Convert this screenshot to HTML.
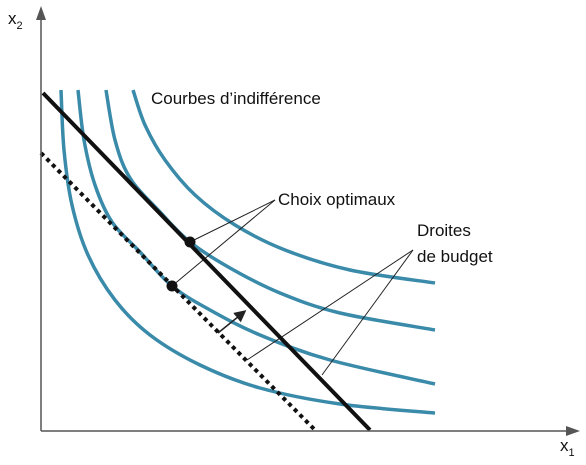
<!DOCTYPE html>
<html><head><meta charset="utf-8"><style>
body{margin:0;background:#fff}
svg{display:block}
text{font-family:"Liberation Sans",sans-serif;fill:#111}
</style></head><body>
<svg width="586" height="465" viewBox="0 0 586 465">
<defs><marker id="ah" markerWidth="8" markerHeight="8" refX="6" refY="4" orient="auto"><path d="M0,0 L8,4 L0,8 Z" fill="#222"/></marker></defs>
<g id="curves"></g>
<g id="lines"></g>
<line x1="41" y1="431" x2="41" y2="14" stroke="#555" stroke-width="1.5"/>
<path d="M41,6 L36,20 L46,20 Z" fill="#555"/>
<line x1="41" y1="431" x2="572" y2="431" stroke="#555" stroke-width="1.5"/>
<path d="M580,431 L566,426 L566,436 Z" fill="#555"/>
<text x="8" y="24" font-size="17">x<tspan font-size="11" dy="5">2</tspan></text>
<text x="560" y="451" font-size="17">x<tspan font-size="11" dy="5">1</tspan></text>
<text x="151" y="104" font-size="17">Courbes d’indifférence</text>
<text x="278" y="205" font-size="17">Choix optimaux</text>
<text x="417" y="236" font-size="17">Droites</text>
<text x="417" y="262" font-size="17">de budget</text>
</svg>
<script>
const curve1=[[20,340],[23,280],[31,225],[47,175],[74,130],[109,95],[159,65],[219,42],[299,26],[394,17]];
const curve2=[[37,340],[43,290],[54,245],[71,208],[99,178],[131,144],[169,120],[219,95],[289,70],[394,46]];
const curve3=[[65,340],[74,290],[89,252],[119,218],[149,188],[189,162],[239,137],[299,117],[394,100]];
const curve4=[[92,340],[104,305],[124,270],[154,235],[194,205],[244,180],[309,160],[394,147]];
const curves=[curve1,curve2,curve3,curve4];
const budgetSolid=[[2,337],[329,0]];
const budgetDotted=[[0,277],[274,0]];
const optima=[[149,188],[131,144]];
const sx=v=>41+v, sy=v=>430-v;
const NS="http://www.w3.org/2000/svg";
function smooth(pts){
  const p=pts.map(q=>[sx(q[0]),sy(q[1])]);
  let d=`M${p[0][0]},${p[0][1]}`;
  for(let i=0;i<p.length-1;i++){
    const p0=p[i-1]||p[i],p1=p[i],p2=p[i+1],p3=p[i+2]||p2;
    d+=` C${p1[0]+(p2[0]-p0[0])/6},${p1[1]+(p2[1]-p0[1])/6} ${p2[0]-(p3[0]-p1[0])/6},${p2[1]-(p3[1]-p1[1])/6} ${p2[0]},${p2[1]}`;
  }
  return d;
}
const cg=document.getElementById('curves');
curves.forEach((c,i)=>{
  const e=document.createElementNS(NS,'path');
  e.setAttribute('d',smooth(c));
  e.setAttribute('fill','none');e.setAttribute('stroke','#3a8aaa');e.setAttribute('stroke-width','3.5');
  
  
  cg.appendChild(e);
});
const lg=document.getElementById('lines');
function ln(x1,y1,x2,y2,attrs,name){
  const e=document.createElementNS(NS,'line');
  e.setAttribute('x1',x1);e.setAttribute('y1',y1);e.setAttribute('x2',x2);e.setAttribute('y2',y2);
  for(const k in attrs)e.setAttribute(k,attrs[k]);
  
  
  lg.appendChild(e);return e;
}
ln(275,200,sx(optima[0][0]),sy(optima[0][1]),{stroke:'#222','stroke-width':1},'leader-line');
ln(275,200,sx(optima[1][0]),sy(optima[1][1]),{stroke:'#222','stroke-width':1},'leader-line');
ln(413,250,247,360,{stroke:'#222','stroke-width':1},'leader-line');
ln(413,250,322,375,{stroke:'#222','stroke-width':1},'leader-line');
ln(sx(budgetDotted[0][0]),sy(budgetDotted[0][1]),sx(budgetDotted[1][0]),sy(budgetDotted[1][1]),{stroke:'#111','stroke-width':4,'stroke-dasharray':'4 4'},'budget-line-initial');
ln(sx(budgetSolid[0][0]),sy(budgetSolid[0][1]),sx(budgetSolid[1][0]),sy(budgetSolid[1][1]),{stroke:'#111','stroke-width':4},'budget-line-new');
ln(218,333,244,312,{stroke:'#222','stroke-width':1.5,'marker-end':'url(#ah)'},'shift-arrow');
optima.forEach(o=>{
  const c=document.createElementNS(NS,'circle');
  c.setAttribute('cx',sx(o[0]));c.setAttribute('cy',sy(o[1]));c.setAttribute('r',5.5);c.setAttribute('fill','#111');
  
  
  lg.appendChild(c);
});
</script>
</body></html>
